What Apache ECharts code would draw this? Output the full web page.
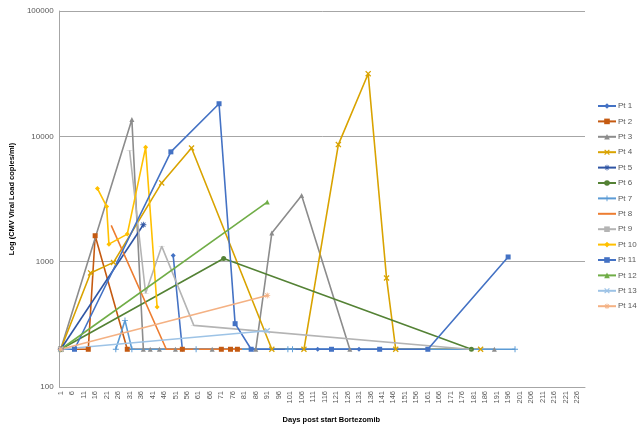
<!DOCTYPE html>
<html><head><meta charset="utf-8">
<script src="https://cdn.jsdelivr.net/npm/echarts@6/dist/echarts.min.js"></script>
<style>html,body{margin:0;padding:0;background:#fff}#c{width:638px;height:430px}</style>
</head><body><div id="c"></div>
<script>
// Days 1..229 on the category axis
const days = [];
for (let d = 1; d <= 229; d++) days.push(String(d));
const yTicks = [100, 1000, 10000, 100000];

// [day, copies/ml]
const pt1  = [[50,1120],[54,200],[113,200],[131,200]];
const pt2  = [[1,200],[13,200],[16,1610],[30,200],[54,200],[71,200],[75,200],[78,200]];
const pt3  = [[1,200],[32,13600],[37,200],[40,200],[44,200],[51,200],[67,200],[86,200],[93,1690],[106,3370],[127,200],[190,200]];
const pt4  = [[1,200],[14,813],[24,987],[45,4250],[58,8070],[93,200],[107,200],[122,8590],[135,31600],[143,741],[147,200],[184,200]];
const pt5  = [[1,200],[37,1970]];
const pt6  = [[1,200],[72,1060],[180,200]];
const pt7  = [[25,200],[29,340],[32,200],[60,200],[100,200],[102,200],[199,200]];
const pt8  = [[23,1950],[47,200],[80,200]];
const pt9  = [[31,7730],[38,560],[45,1330],[59,310],[179,200]];
const pt10 = [[17,3830],[21,2760],[22,1380],[30,1660],[38,8170],[43,435]];
const pt11 = [[1,200],[7,200],[49,7520],[70,18200],[77,320],[84,200],[119,200],[140,200],[161,200],[196,1090]];
const pt12 = [[1,200],[91,2990]];
const pt13 = [[1,200],[91,281]];
const pt14 = [[1,200],[91,538]];

const names = ['Pt 1','Pt 2','Pt 3','Pt 4','Pt 5','Pt 6','Pt 7','Pt 8','Pt 9','Pt 10','Pt 11','Pt 12','Pt 13','Pt 14'];
const seriesData = [pt1,pt2,pt3,pt4,pt5,pt6,pt7,pt8,pt9,pt10,pt11,pt12,pt13,pt14];

const X = 'path://M0,1.5L1.5,0L5,3.5L8.5,0L10,1.5L6.5,5L10,8.5L8.5,10L5,6.5L1.5,10L0,8.5L3.5,5Z';
const PLUS = 'path://M4.2,0H5.8V4.2H10V5.8H5.8V10H4.2V5.8H0V4.2H4.2Z';
const STAR = 'path://M4.3,0H5.7V3.3L8,1L9,2L6.7,4.3H10V5.7H6.7L9,8L8,9L5.7,6.7V10H4.3V6.7L2,9L1,8L3.3,5.7H0V4.3H3.3L1,2L2,1L4.3,3.3Z';
const DASH = 'path://M0,0H10V2H0Z';

const styles = [
  {c:'#4472C4', s:'diamond', z:5},
  {c:'#C55A11', s:'rect', z:5},
  {c:'#8C8C8C', s:'triangle', z:5},
  {c:'#D9A300', s:X, z:6},
  {c:'#2F55A4', s:STAR, z:6},
  {c:'#548235', s:'circle', z:5},
  {c:'#5B9BD5', s:PLUS, z:6},
  {c:'#ED7D31', s:'none', z:5},
  {c:'#B4B4B4', s:DASH, z:[6,1.6]},
  {c:'#FFC000', s:'diamond', z:5},
  {c:'#4472C4', s:'rect', z:5},
  {c:'#70AD47', s:'triangle', z:5},
  {c:'#9DC3E6', s:X, z:6},
  {c:'#F4B183', s:STAR, z:6}
];

const series = seriesData.map((arr, i) => ({
  name: names[i],
  type: 'line',
  data: arr.map(p => [p[0] - 1, p[1]]),
  symbol: styles[i].s,
  symbolSize: styles[i].z,
  showSymbol: styles[i].s !== 'none',
  showAllSymbol: true,
  symbolKeepAspect: true,
  lineStyle: {color: styles[i].c, width: 1.6},
  itemStyle: {color: styles[i].c},
  animation: false
}));

const legendData = names.map((n, i) => styles[i].s === 'none'
  ? {name: n, itemStyle: {opacity: 0}} : {name: n});

const chart = echarts.init(document.getElementById('c'));
chart.setOption({
  animation: false,
  textStyle: {fontFamily: 'Liberation Sans'},
  grid: {left: 57, right: 53, top: 11, bottom: 43, containLabel: false},
  legend: {
    orient: 'vertical', left: 597, top: 102, padding: 0,
    itemWidth: 18, itemHeight: 7, itemGap: 7.4,
    textStyle: {fontSize: 8, color: '#595959', padding: [0,0,0,-3]},
    data: legendData
  },
  xAxis: {
    type: 'category', data: days, boundaryGap: true,
    name: 'Days post start Bortezomib', nameLocation: 'middle', nameGap: 29,
    nameTextStyle: {fontSize: 7.5, fontWeight: 'bold', color: '#000', padding: [0,0,0,18]},
    axisLine: {lineStyle: {color: '#A6A6A6'}},
    axisTick: {interval: 0, length: 4, lineStyle: {color: '#A6A6A6'}},
    axisLabel: {interval: 4, rotate: 90, fontSize: 7.5, color: '#595959', margin: 4},
    splitLine: {show: false}
  },
  yAxis: {
    type: 'log', logBase: 10, min: yTicks[0], max: yTicks[yTicks.length-1],
    name: 'Log (CMV Viral Load copies/ml)', nameLocation: 'middle', nameGap: 38, nameRotate: 90,
    nameTextStyle: {fontSize: 7.5, fontWeight: 'bold', color: '#000'},
    axisLine: {show: true, lineStyle: {color: '#A6A6A6'}},
    axisTick: {show: false},
    axisLabel: {fontSize: 8, color: '#595959', margin: 6, formatter: v => String(Math.round(v))},
    splitLine: {lineStyle: {color: '#A6A6A6', width: 1}},
    minorSplitLine: {show: false}
  },
  series: series
});
</script></body></html>
